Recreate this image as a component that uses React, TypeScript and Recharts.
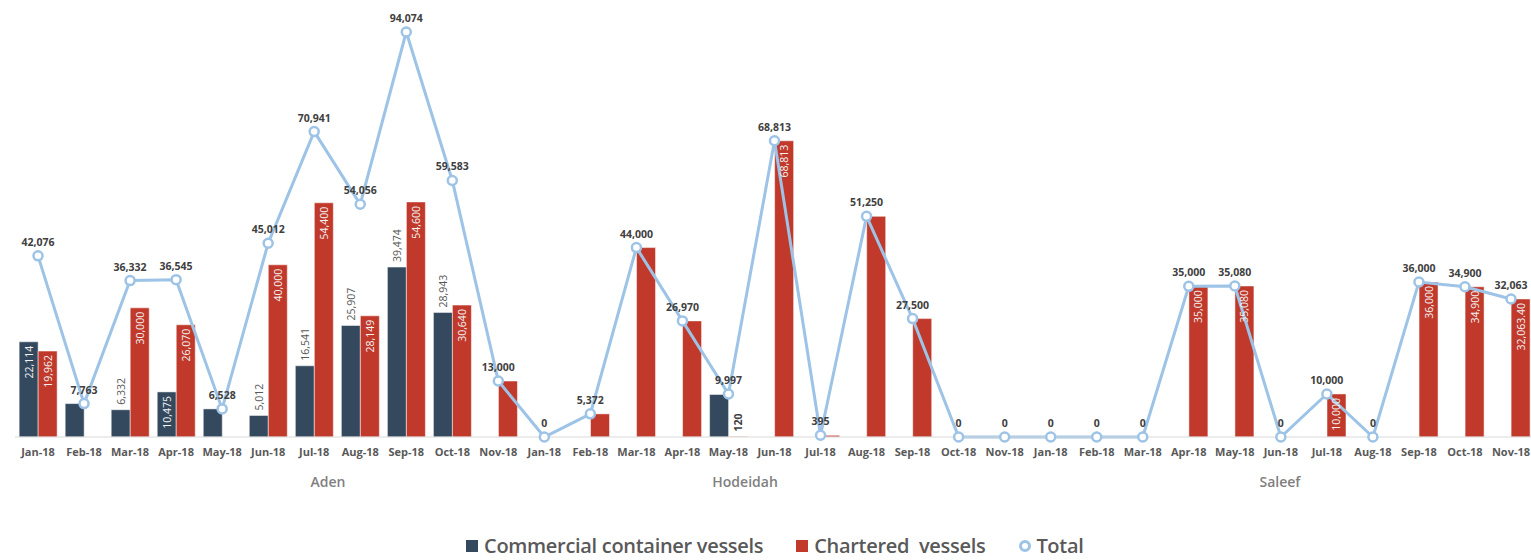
import { ComposedChart, Bar, Line, XAxis, YAxis, LabelList } from 'recharts';

const months = ['Jan-18', 'Feb-18', 'Mar-18', 'Apr-18', 'May-18', 'Jun-18', 'Jul-18', 'Aug-18', 'Sep-18', 'Oct-18', 'Nov-18'];
const ports = ['Aden', 'Hodeidah', 'Saleef'];

// Aden, Hodeidah, Saleef - 11 months each
const commercial = [
    22114, 7763, 6332, 10475, 6528, 5012, 16541, 25907, 39474, 28943, 0,
    0, 0, 0, 0, 9877, 0, 0, 0, 0, 0, 0,
    0, 0, 0, 0, 0, 0, 0, 0, 0, 0, 0,
];
const chartered = [
    19962, 0, 30000, 26070, 0, 40000, 54400, 28149, 54600, 30640, 13000,
    0, 5372, 44000, 26970, 120, 68813, 395, 51250, 27500, 0, 0,
    0, 0, 0, 35000, 35080, 0, 10000, 0, 36000, 34900, 32063.4,
];
const total = [
    42076, 7763, 36332, 36545, 6528, 45012, 70941, 54056, 94074, 59583, 13000,
    0, 5372, 44000, 26970, 9997, 68813, 395, 51250, 27500, 0, 0,
    0, 0, 0, 35000, 35080, 0, 10000, 0, 36000, 34900, 32063,
];

// which bars carry a value label: in = inside top, out = above bar, bold = above bar in bold
const commercialLabels = [
    'in', '-', 'out', 'in', '-', 'out', 'out', 'out', 'out', 'out', '-',
    '-', '-', '-', '-', '-', '-', '-', '-', '-', '-', '-',
    '-', '-', '-', '-', '-', '-', '-', '-', '-', '-', '-',
];
const charteredLabels = [
    'in', '-', 'in', 'in', '-', 'in', 'in', 'in', 'in', 'in', '-',
    '-', '-', '-', '-', 'bold', 'in', '-', '-', '-', '-', '-',
    '-', '-', '-', 'in', 'in', '-', 'in', '-', 'in', 'in', 'in',
];

// where the port names sit, in category units
const portLabelAt = [6.3, 15.36, 26.98];

const data = ports.flatMap((port, pi) =>
    months.map((month, mi) => {
        const i = pi * 11 + mi;
        return { i, month, port, commercial: commercial[i], chartered: chartered[i], total: total[i] };
    })
);

const NAVY = '#34495E';
const RED = '#C0392B';
const BLUE = '#9DC3E6';
const FONT = '"Open Sans", sans-serif';

const fmtInt = (v: number) => Math.round(v).toLocaleString('en-US');
const fmtBar = (v: number) =>
    Number.isInteger(v)
        ? v.toLocaleString('en-US')
        : v.toLocaleString('en-US', { minimumFractionDigits: 2, maximumFractionDigits: 2 });

const box = (props: any) => {
    const vb = props.viewBox || {};
    return {
        x: props.x ?? vb.x,
        y: props.y ?? vb.y,
        width: props.width ?? vb.width ?? 0,
        height: props.height ?? vb.height ?? 0,
    };
};

// label value is the row index, so zero-height bars don't shift things
const barLabel = (modes: string[], values: number[]) => (props: any) => {
    const i = props.value;
    const mode = modes[i];
    if (!mode || mode === '-') return null;
    const { x, y, width } = box(props);
    const cx = x + width / 2;
    if (mode === 'in') {
        const ty = y + 4;
        return (
            <text x={cx} y={ty} transform={`rotate(-90, ${cx}, ${ty})`} textAnchor="end" dominantBaseline="central"
                fill="#F2F2F2" fontSize={10.5} fontFamily={FONT}>
                {fmtBar(values[i])}
            </text>
        );
    }
    const ty = y - 5;
    return (
        <text x={cx} y={ty} transform={`rotate(-90, ${cx}, ${ty})`} textAnchor="start" dominantBaseline="central"
            fill={mode === 'bold' ? '#404040' : '#595959'} fontWeight={mode === 'bold' ? 700 : 400}
            fontSize={10.5} fontFamily={FONT}>
            {fmtBar(values[i])}
        </text>
    );
};

const totalLabel = (props: any) => {
    const { x, y } = box(props);
    return (
        <text x={x} y={y - 10} textAnchor="middle" fill="#404040" fontSize={10.5} fontWeight={700} fontFamily={FONT}>
            {fmtInt(props.value)}
        </text>
    );
};

const MonthTick = (props: any) => {
    const { x, y, payload, index } = props;
    const step = payload && payload.offset ? payload.offset * 2 : 46.03;
    const pi = index % 11 === 0 ? index / 11 : -1;
    return (
        <g>
            <text x={x} y={y} dy={11} textAnchor="middle" fill="#595959" fontSize={11} fontWeight={700} fontFamily={FONT}>
                {payload.value}
            </text>
            {pi >= 0 && (
                <text x={x + (portLabelAt[pi] - index) * step} y={y} dy={42} textAnchor="middle" fill="#808080"
                    fontSize={14} fontWeight={600} fontFamily={FONT}>
                    {ports[pi]}
                </text>
            )}
        </g>
    );
};

const legendItems = [
    { name: 'Commercial container vessels', color: NAVY, type: 'square' },
    { name: 'Chartered  vessels', color: RED, type: 'square' },
    { name: 'Total', color: BLUE, type: 'circle' },
];

export default function App() {
    return (
        <div style={{ position: 'fixed', left: 0, top: 0, width: 1531, height: 560, overflow: 'hidden', background: '#fff', fontFamily: FONT }}>
            <ComposedChart
                width={1545}
                height={560}
                data={data}
                margin={{ top: 6.5, right: 11, left: 15, bottom: 63 }}
                barCategoryGap="9%"
                barGap={0}
            >
                <XAxis dataKey="month" interval={0} tickLine={false} axisLine={{ stroke: '#D9D9D9' }} height={60} tick={<MonthTick />} />
                <YAxis hide domain={[0, 100000]} />
                <Bar dataKey="commercial" fill={NAVY} stroke="#FFFFFF" strokeOpacity={0.5} isAnimationActive={false}>
                    <LabelList dataKey={(d: any) => d.i} content={barLabel(commercialLabels, commercial)} />
                </Bar>
                <Bar dataKey="chartered" fill={RED} stroke="#FFFFFF" strokeOpacity={0.5} isAnimationActive={false}>
                    <LabelList dataKey={(d: any) => d.i} content={barLabel(charteredLabels, chartered)} />
                </Bar>
                <Line
                    dataKey="total"
                    type="linear"
                    stroke={BLUE}
                    strokeWidth={3}
                    dot={{ r: 4.5, fill: '#FFFFFF', stroke: BLUE, strokeWidth: 2.5 }}
                    activeDot={false}
                    isAnimationActive={false}
                >
                    <LabelList dataKey="total" content={totalLabel} />
                </Line>
            </ComposedChart>
            <div style={{ position: 'absolute', left: 466, top: 533, display: 'flex', alignItems: 'center', whiteSpace: 'pre' }}>
                {legendItems.map((it) => (
                    <div key={it.name} style={{ display: 'flex', alignItems: 'center', marginRight: 33 }}>
                        {it.type === 'square' ? (
                            <span style={{ width: 12, height: 12, background: it.color, display: 'inline-block', marginRight: 6 }} />
                        ) : (
                            <svg width={14} height={14} style={{ marginRight: 4 }}>
                                <circle cx={7} cy={7} r={4.5} fill="#FFFFFF" stroke={it.color} strokeWidth={3} />
                            </svg>
                        )}
                        <span style={{ fontSize: 20, fontWeight: 600, color: '#595959', lineHeight: '26px', letterSpacing: -0.3 }}>{it.name}</span>
                    </div>
                ))}
            </div>
        </div>
    );
}
